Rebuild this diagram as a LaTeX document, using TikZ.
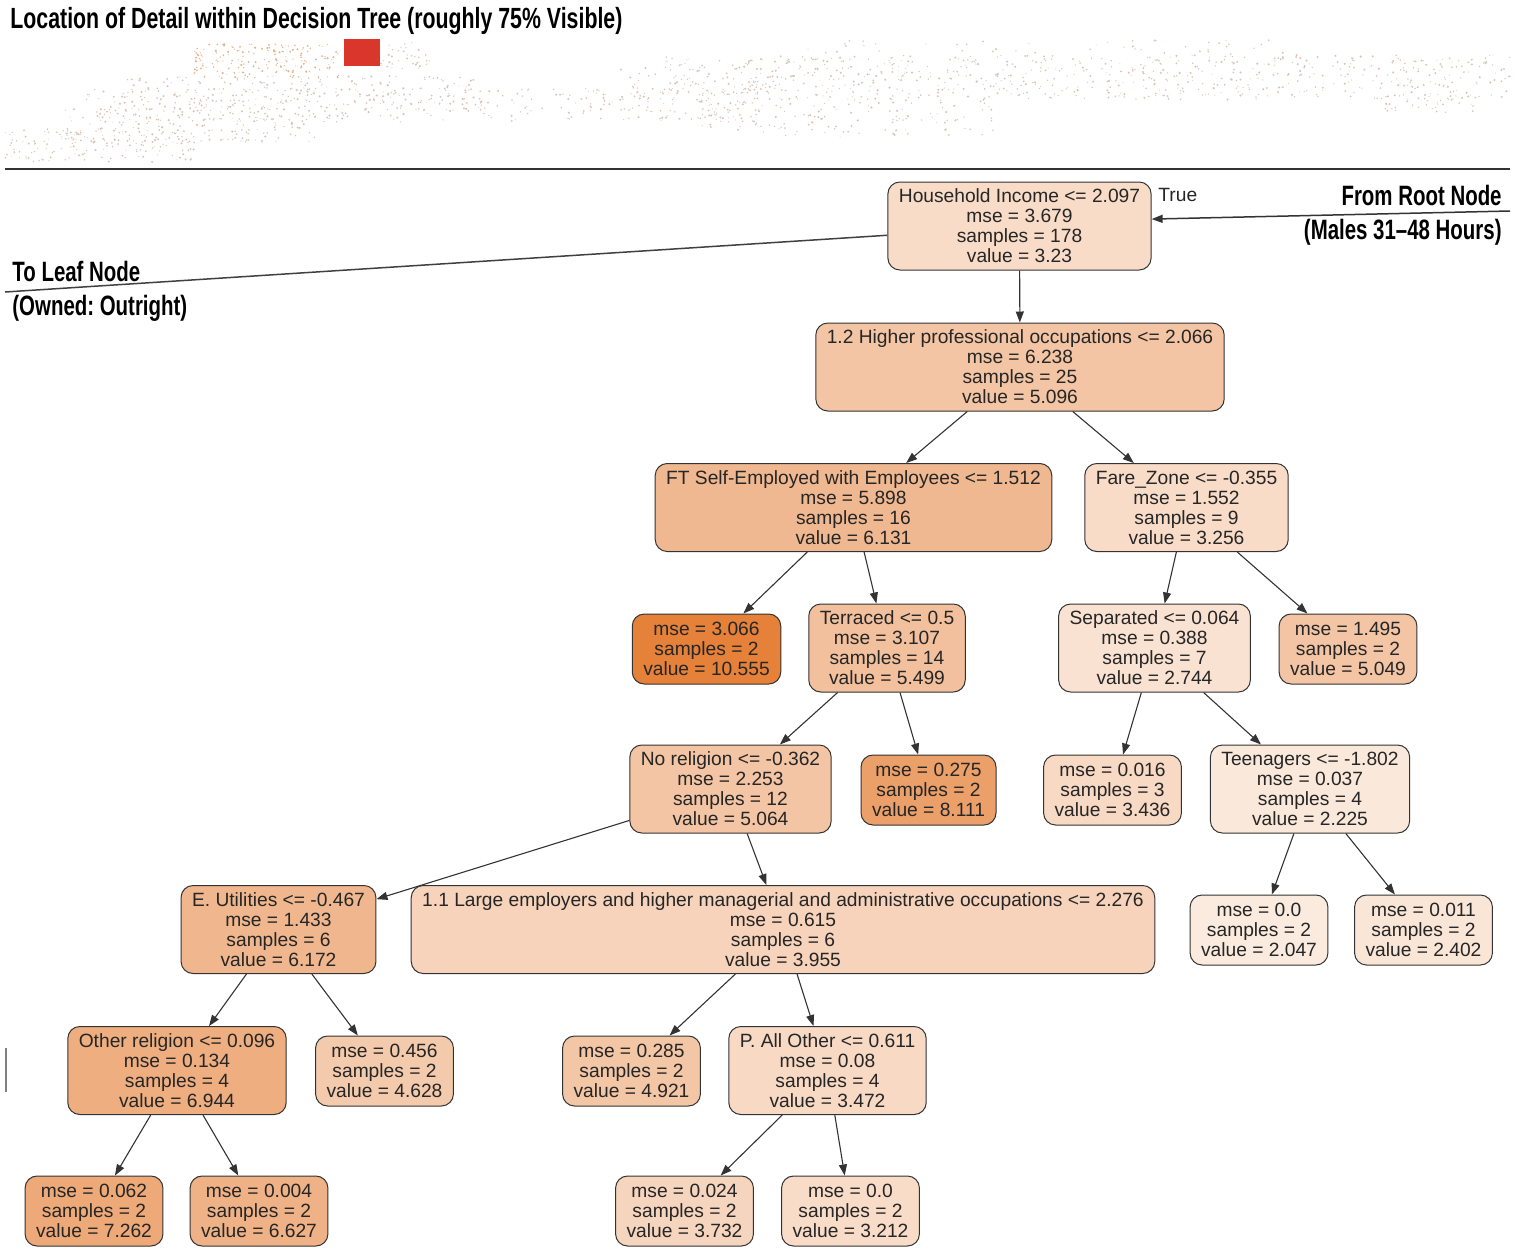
\documentclass[tikz,border=0pt]{standalone}
\usepackage{fontspec}
\setmainfont{Liberation Sans}
\newfontfamily\headfont[FakeStretch=0.73]{Liberation Sans}
\usetikzlibrary{arrows.meta}
\definecolor{tree}{HTML}{E58139}
\definecolor{edgec}{HTML}{333333}
\definecolor{dustc}{HTML}{D9C4B8}
\definecolor{dusto}{HTML}{E6B08C}
\definecolor{marker}{HTML}{D9362C}
% scatter of specks for the overview strip
\newcommand{\treedust}[6]{%
  \foreach \k in {1,...,#5}{%
    \pgfmathsetmacro\dx{#1+rnd*(#2-#1)}%
    \pgfmathsetmacro\dy{#3+rnd*(#4-#3)}%
    \fill[#6] (\dx,\dy) circle (0.5+rnd*0.7);
  }}

\begin{document}
\begin{tikzpicture}[x=0.5pt,y=-0.5pt,
split/.style={draw=edgec,line width=0.5pt,rounded corners=6pt,align=center,text=black!85,
  font=\fontsize{9.6}{10}\selectfont,inner xsep=5.5pt,inner ysep=1pt,minimum height=44pt},
leaf/.style={split,minimum height=35pt},
head/.style={font=\headfont\bfseries\fontsize{14}{16}\selectfont\frenchspacing,inner sep=0pt},
arr/.style={-{Triangle[length=5.5pt,width=4pt]},draw=edgec,line width=0.55pt},
guide/.style={draw=black!75,line width=0.75pt}]
\useasboundingbox (0,0) rectangle (1515,1259);
% overview strip
\pgfmathsetseed{11}
\treedust{194}{340}{44}{78}{170}{dusto}
\treedust{380}{430}{42}{70}{35}{dustc}
\treedust{120}{485}{76}{110}{220}{dustc}
\treedust{70}{760}{88}{122}{330}{dustc}
\treedust{60}{315}{108}{143}{180}{dustc}
\treedust{5}{195}{128}{162}{150}{dustc}
\treedust{620}{760}{57}{100}{110}{dustc}
\treedust{700}{745}{100}{130}{30}{dustc}
\treedust{750}{1510}{55}{100}{650}{dustc}
\treedust{750}{995}{95}{137}{130}{dustc}
\treedust{1385}{1475}{95}{113}{40}{dustc}
\treedust{780}{1290}{40}{54}{45}{dustc}
\fill[marker] (344,39) rectangle (380,66);
\node[head,font=\headfont\bfseries\fontsize{14.6}{16}\selectfont,anchor=north west] at (10,7)(title){Location of Detail within Decision Tree (roughly 75\% Visible)};
\draw[black!80,line width=1.3pt] (5,169) -- (1510,169);
\draw[black!50,line width=0.6pt] (6,1048) -- (6,1092);
% tree
\node[split,fill=tree!28] at (1019.5,226)(hhinc){Household Income <= 2.097\\mse = 3.679\\samples = 178\\value = 3.23};
\node[split,fill=tree!46] at (1020,367)(hiprof){1.2 Higher professional occupations <= 2.066\\mse = 6.238\\samples = 25\\value = 5.096};
\node[split,fill=tree!56] at (853.5,507.5)(ftself){FT Self-Employed with Employees <= 1.512\\mse = 5.898\\samples = 16\\value = 6.131};
\node[split,fill=tree!28] at (1186.5,507.5)(fare){Fare\_Zone <= -0.355\\mse = 1.552\\samples = 9\\value = 3.256};
\node[leaf,fill=tree!100] at (706.5,649)(lfA){mse = 3.066\\samples = 2\\value = 10.555};
\node[split,fill=tree!50] at (887,648)(terr){Terraced <= 0.5\\mse = 3.107\\samples = 14\\value = 5.499};
\node[split,fill=tree!23] at (1154.5,648)(sep){Separated <= 0.064\\mse = 0.388\\samples = 7\\value = 2.744};
\node[leaf,fill=tree!46] at (1348,649)(lfB){mse = 1.495\\samples = 2\\value = 5.049};
\node[split,fill=tree!46] at (730.5,789)(norel){No religion <= -0.362\\mse = 2.253\\samples = 12\\value = 5.064};
\node[leaf,fill=tree!76] at (928.5,790)(lfC){mse = 0.275\\samples = 2\\value = 8.111};
\node[leaf,fill=tree!30] at (1112.5,790)(lfD){mse = 0.016\\samples = 3\\value = 3.436};
\node[split,fill=tree!18] at (1310,789)(teen){Teenagers <= -1.802\\mse = 0.037\\samples = 4\\value = 2.225};
\node[split,fill=tree!57] at (278.5,929.5)(util){E. Utilities <= -0.467\\mse = 1.433\\samples = 6\\value = 6.172};
\node[split,fill=tree!35] at (783,929.5)(large){1.1 Large employers and higher managerial and administrative occupations <= 2.276\\mse = 0.615\\samples = 6\\value = 3.955};
\node[leaf,fill=tree!16] at (1259,930)(lfE){mse = 0.0\\samples = 2\\value = 2.047};
\node[leaf,fill=tree!20] at (1423.5,930)(lfF){mse = 0.011\\samples = 2\\value = 2.402};
\node[split,fill=tree!64] at (177,1070.5)(othrel){Other religion <= 0.096\\mse = 0.134\\samples = 4\\value = 6.944};
\node[leaf,fill=tree!42] at (384.5,1071)(lfG){mse = 0.456\\samples = 2\\value = 4.628};
\node[leaf,fill=tree!45] at (631.5,1071)(lfH){mse = 0.285\\samples = 2\\value = 4.921};
\node[split,fill=tree!30] at (827.5,1070.5)(pother){P. All Other <= 0.611\\mse = 0.08\\samples = 4\\value = 3.472};
\node[leaf,fill=tree!68] at (94,1211)(lfI){mse = 0.062\\samples = 2\\value = 7.262};
\node[leaf,fill=tree!61] at (259,1211)(lfJ){mse = 0.004\\samples = 2\\value = 6.627};
\node[leaf,fill=tree!33] at (684.5,1211)(lfK){mse = 0.024\\samples = 2\\value = 3.732};
\node[leaf,fill=tree!28] at (850.5,1211)(lfL){mse = 0.0\\samples = 2\\value = 3.212};
\draw[arr](hhinc)--(hiprof);\draw[arr](hiprof)--(ftself);\draw[arr](hiprof)--(fare);
\draw[arr](ftself)--(lfA);\draw[arr](ftself)--(terr);
\draw[arr](fare)--(sep);\draw[arr](fare)--(lfB);
\draw[arr](terr)--(norel);\draw[arr](terr)--(lfC);
\draw[arr](sep)--(lfD);\draw[arr](sep)--(teen);
\draw[arr](norel)--(util);\draw[arr](norel)--(large);
\draw[arr](teen)--(lfE);\draw[arr](teen)--(lfF);
\draw[arr](util)--(othrel);\draw[arr](util)--(lfG);
\draw[arr](large)--(lfH);\draw[arr](large)--(pother);
\draw[arr](othrel)--(lfI);\draw[arr](othrel)--(lfJ);
\draw[arr](pother)--(lfK);\draw[arr](pother)--(lfL);
% root and leaf pointers
\node[font=\fontsize{9.6}{10}\selectfont,text=black!85,anchor=west,inner sep=0pt] at (1158,195)(truelbl){True};
\coordinate (rootsrc) at (1510,211);
\coordinate (leafend) at (5,292);
\draw[guide,arr,line width=0.75pt] (rootsrc) -- (hhinc.3);
\draw[guide] (hhinc.184) -- (leafend);
\node[head,anchor=east] at (1502,195)(fromroot){From Root Node};
\node[head,anchor=east] at (1502,232)(males){(Males 31\textendash 48 Hours)};
\node[head,anchor=west] at (12,271)(toleaf){To Leaf Node};
\node[head,anchor=west] at (12,308)(owned){(Owned: Outright)};
\end{tikzpicture}
\end{document}
